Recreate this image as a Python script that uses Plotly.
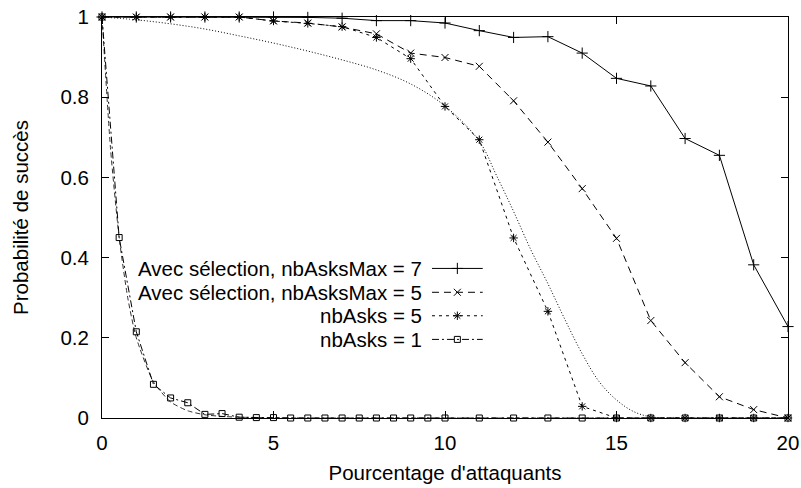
import plotly.graph_objects as go

# Données
x_pct = list(range(21))
avec_sel_7 = [1.0, 1.0, 1.0, 1.0, 1.0, 1.0, 0.999, 0.997, 0.991, 0.991, 0.985,
              0.966, 0.949, 0.951, 0.91, 0.847, 0.828, 0.697, 0.655, 0.382, 0.228]
avec_sel_5 = [1.0, 1.0, 1.0, 1.0, 1.0, 0.99, 0.985, 0.975, 0.958, 0.91, 0.899,
              0.877, 0.791, 0.688, 0.572, 0.448, 0.243, 0.138, 0.053, 0.021, 0.0]
nbasks_5 = [1.0, 1.0, 1.0, 1.0, 1.0, 0.99, 0.984, 0.976, 0.949, 0.896, 0.777,
            0.694, 0.449, 0.266, 0.029, 0.0, 0.0, 0.0, 0.0, 0.0, 0.0]

x_nb1 = [0, 0.5, 1, 1.5, 2, 2.5, 3, 3.5, 4, 4.5, 5, 5.5, 6, 6.5, 7, 7.5, 8, 8.5,
         9, 9.5, 10, 11, 12, 13, 14, 15, 16, 17, 18, 19, 20]
nbasks_1 = [1.0, 0.45, 0.215, 0.084, 0.05, 0.038, 0.009, 0.011, 0.002, 0.001,
            0.001, 0, 0, 0, 0, 0, 0, 0, 0, 0, 0, 0, 0, 0, 0, 0, 0, 0, 0, 0, 0]

# courbes théoriques (sans marqueurs)
x_theo5 = [0, 1, 2, 3, 4, 5, 6, 7, 8, 9, 10, 11, 11.5, 12, 12.5, 13, 13.5, 14,
           14.5, 15, 15.5, 16, 17, 18, 19, 20]
theo_5 = [1.0, 0.993, 0.983, 0.97, 0.953, 0.935, 0.915, 0.893, 0.868, 0.833,
          0.778, 0.69, 0.605, 0.515, 0.42, 0.335, 0.245, 0.16, 0.09, 0.045,
          0.016, 0.003, 0, 0, 0, 0]
x_theo1 = [0, 0.25, 0.5, 0.75, 1, 1.5, 2, 2.5, 3, 3.5, 4, 5, 6, 8, 10, 12, 14,
           16, 18, 20]
theo_1 = [1.0, 0.67, 0.45, 0.3, 0.2, 0.09, 0.04, 0.018, 0.008, 0.004, 0.002,
          0.0005, 0, 0, 0, 0, 0, 0, 0, 0]

legend_labels = ["Avec sélection, nbAsksMax = 7", "Avec sélection, nbAsksMax = 5",
                 "nbAsks = 5", "nbAsks = 1"]

FONT = "Liberation Sans, Arial, sans-serif"
FS = 20.5
styles = [
    dict(dash="solid", symbol="cross-thin-open", size=8),
    dict(dash="7px,5px", symbol="x-thin-open", size=7),
    dict(dash="3px,4px", symbol="asterisk-open", size=7),
    dict(dash="7px,3px,2px,3px", symbol="square-open", size=6),
]

fig = go.Figure()

# courbes théoriques
fig.add_trace(go.Scatter(x=x_theo5, y=theo_5, mode="lines", line_shape="spline",
                         line=dict(color="black", width=1, dash="1px,2px"),
                         showlegend=False, cliponaxis=False))
fig.add_trace(go.Scatter(x=x_theo1, y=theo_1, mode="lines", line_shape="spline",
                         line=dict(color="#333", width=1, dash="5px,3px",
                                   smoothing=0.6),
                         showlegend=False, cliponaxis=False))

series = [(x_pct, avec_sel_7), (x_pct, avec_sel_5), (x_pct, nbasks_5),
          (x_nb1, nbasks_1)]
for (xs, ys), st in zip(series, styles):
    fig.add_trace(go.Scatter(
        x=xs, y=ys, mode="lines+markers",
        line=dict(color="black", width=1, dash=st["dash"]),
        marker=dict(symbol=st["symbol"], size=st["size"], color="black",
                    line=dict(color="black", width=1)),
        showlegend=False, cliponaxis=False))

# légende à la gnuplot : texte aligné à droite, échantillon à droite
leg_y = [0.373, 0.3135, 0.255, 0.196]
for lab, st, yy in zip(legend_labels, styles, leg_y):
    fig.add_annotation(x=0.469, y=yy, xref="paper", yref="paper", text=lab,
                       showarrow=False, xanchor="right", yanchor="middle",
                       font=dict(family=FONT, size=FS, color="black"))
    fig.add_trace(go.Scatter(x=[0.481, 0.555], y=[yy, yy], mode="lines",
                             xaxis="x2", yaxis="y2", showlegend=False,
                             line=dict(color="black", width=1, dash=st["dash"])))
    fig.add_trace(go.Scatter(x=[0.518], y=[yy], mode="markers",
                             xaxis="x2", yaxis="y2", showlegend=False,
                             marker=dict(symbol=st["symbol"], size=st["size"],
                                         color="black",
                                         line=dict(color="black", width=1))))

axis_common = dict(showgrid=False, zeroline=False, showline=True,
                   linecolor="black", linewidth=1, mirror="ticks",
                   ticks="inside", ticklen=7, tickcolor="black", automargin=False,
                   tickfont=dict(family=FONT, size=FS, color="black"))

fig.update_layout(
    width=801, height=488,
    plot_bgcolor="white", paper_bgcolor="white",
    margin=dict(l=102, r=13, t=17, b=70),
    font=dict(family=FONT, size=FS, color="black"),
    xaxis=dict(range=[0, 20], tickvals=[0, 5, 10, 15, 20], ticklabelstandoff=6,
               title=dict(text="Pourcentage d'attaquants", standoff=13,
                          font=dict(family=FONT, size=FS)),
               **axis_common),
    yaxis=dict(range=[0, 1], dtick=0.2, ticklabelstandoff=8,
               title=dict(text="Probabilité de succès", standoff=26,
                          font=dict(family=FONT, size=FS)),
               **axis_common),
    xaxis2=dict(overlaying="x", range=[0, 1], visible=False),
    yaxis2=dict(overlaying="y", range=[0, 1], visible=False),
)

fig.write_html("out.html", config={"displayModeBar": False},
               post_script="document.body.style.margin='0';"
                           "document.body.style.overflow='hidden';")
